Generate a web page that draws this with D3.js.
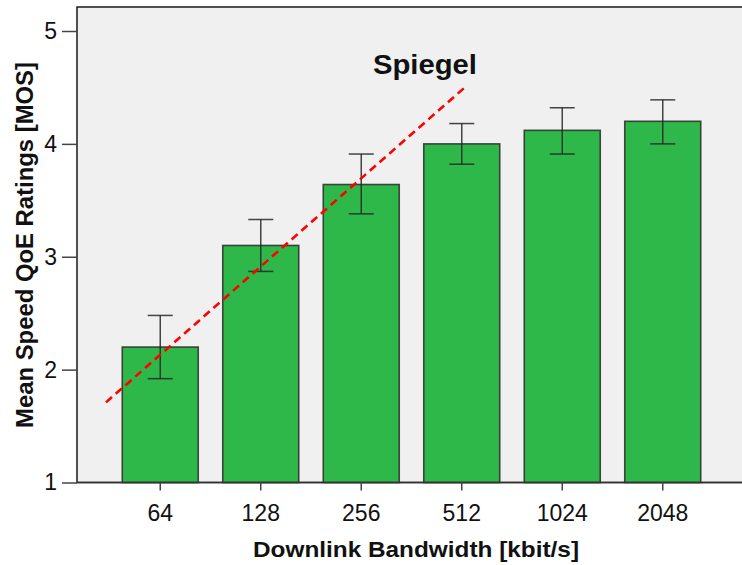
<!DOCTYPE html>
<html>
<head>
<meta charset="utf-8">
<script src="https://cdn.jsdelivr.net/npm/d3@7"></script>
<style>
  html, body { margin: 0; padding: 0; background: #ffffff; }
  svg { display: block; font-family: Arial, "Liberation Sans", sans-serif; }
</style>
</head>
<body>
<svg id="chart" width="742" height="565"></svg>
<script>
// Downlink bandwidth levels (kbit/s) and mean speed QoE ratings with 95% CI
const categories = ["64", "128", "256", "512", "1024", "2048"];
const meanMOS    = [2.2, 3.1, 3.64, 4.0, 4.12, 4.2];
const ciLower    = [1.92, 2.87, 3.38, 3.82, 3.91, 4.0];
const ciUpper    = [2.48, 3.33, 3.91, 4.18, 4.32, 4.39];
const yTicks     = [1, 2, 3, 4, 5];

// Reference trend line (category index, MOS) and its label
const trendX = [-0.54, 3.03];
const trendY = [1.71, 4.50];
const trendLabel = "Spiegel";

const svg = d3.select("#chart");

const plot = { left: 77, top: 7, right: 746, bottom: 482.5 };

const y = d3.scaleLinear().domain([1, 5]).range([482.5, 31]);
const x = d3.scaleBand()
  .domain(categories)
  .range([110, 713])
  .paddingInner(0.244)
  .paddingOuter(0.122);
const xIdx = d3.scaleLinear()
  .domain([0, categories.length - 1])
  .range([x(categories[0]) + x.bandwidth() / 2,
          x(categories[categories.length - 1]) + x.bandwidth() / 2]);

// plot background and frame
svg.append("rect")
  .attr("x", plot.left).attr("y", plot.top)
  .attr("width", plot.right - plot.left).attr("height", plot.bottom - plot.top)
  .attr("fill", "#f0f0f0")
  .attr("stroke", "#1a1a1a").attr("stroke-width", 1.5);

// bars
svg.append("g").selectAll("rect")
  .data(categories)
  .join("rect")
  .attr("x", d => x(d))
  .attr("y", (d, i) => y(meanMOS[i]))
  .attr("width", x.bandwidth())
  .attr("height", (d, i) => y(1) - y(meanMOS[i]))
  .attr("fill", "#2eb84a")
  .attr("stroke", "#2a2a2a")
  .attr("stroke-opacity", 0.85)
  .attr("stroke-width", 1.6);

// error bars
const capHalf = 12.5;
const eb = svg.append("g")
  .attr("stroke", "#262626")
  .attr("stroke-opacity", 0.85)
  .attr("stroke-width", 1.5);
categories.forEach((c, i) => {
  const cx = x(c) + x.bandwidth() / 2;
  eb.append("line").attr("x1", cx).attr("x2", cx)
    .attr("y1", y(ciLower[i])).attr("y2", y(ciUpper[i]));
  eb.append("line").attr("x1", cx - capHalf).attr("x2", cx + capHalf)
    .attr("y1", y(ciUpper[i])).attr("y2", y(ciUpper[i]));
  eb.append("line").attr("x1", cx - capHalf).attr("x2", cx + capHalf)
    .attr("y1", y(ciLower[i])).attr("y2", y(ciLower[i]));
});

// bottom axis line
svg.append("line")
  .attr("x1", plot.left).attr("x2", plot.right)
  .attr("y1", y(1)).attr("y2", y(1))
  .attr("stroke", "#333").attr("stroke-width", 1.5);

// trend line
svg.append("line")
  .attr("x1", xIdx(trendX[0])).attr("y1", y(trendY[0]))
  .attr("x2", xIdx(trendX[1])).attr("y2", y(trendY[1]))
  .attr("stroke", "#ff0000")
  .attr("stroke-width", 2.6)
  .attr("stroke-dasharray", "8,5");

svg.append("text")
  .attr("x", 425).attr("y", 74)
  .attr("text-anchor", "middle")
  .attr("font-size", 27).attr("font-weight", "bold")
  .attr("fill", "#111")
  .attr("textLength", 104).attr("lengthAdjust", "spacingAndGlyphs")
  .text(trendLabel);

// y axis
const yAxis = svg.append("g")
  .attr("transform", `translate(${plot.left},0)`)
  .call(d3.axisLeft(y).tickValues(yTicks).tickFormat(d3.format("d")).tickSize(15).tickPadding(5));
yAxis.select(".domain").remove();
yAxis.selectAll(".tick line").attr("stroke", "#444").attr("stroke-width", 1.5);
yAxis.selectAll(".tick text")
  .attr("font-size", 23).attr("fill", "#111")
  .attr("font-family", "Arial, 'Liberation Sans', sans-serif");

// x axis
const xAxis = svg.append("g")
  .attr("transform", `translate(0,${y(1)})`)
  .call(d3.axisBottom(x).tickSize(8).tickPadding(14));
xAxis.select(".domain").remove();
xAxis.selectAll(".tick line").attr("stroke", "#444").attr("stroke-width", 1.5);
xAxis.selectAll(".tick text")
  .attr("font-size", 23).attr("fill", "#111")
  .attr("font-family", "Arial, 'Liberation Sans', sans-serif");

// axis titles
svg.append("text")
  .attr("x", 416).attr("y", 557)
  .attr("text-anchor", "middle")
  .attr("font-size", 22).attr("font-weight", "bold").attr("fill", "#111")
  .attr("textLength", 326).attr("lengthAdjust", "spacingAndGlyphs")
  .text("Downlink Bandwidth [kbit/s]");

svg.append("text")
  .attr("transform", "translate(33,245) rotate(-90)")
  .attr("text-anchor", "middle")
  .attr("font-size", 23).attr("font-weight", "bold").attr("fill", "#111")
  .attr("textLength", 366).attr("lengthAdjust", "spacingAndGlyphs")
  .text("Mean Speed QoE Ratings [MOS]");
</script>
</body>
</html>
